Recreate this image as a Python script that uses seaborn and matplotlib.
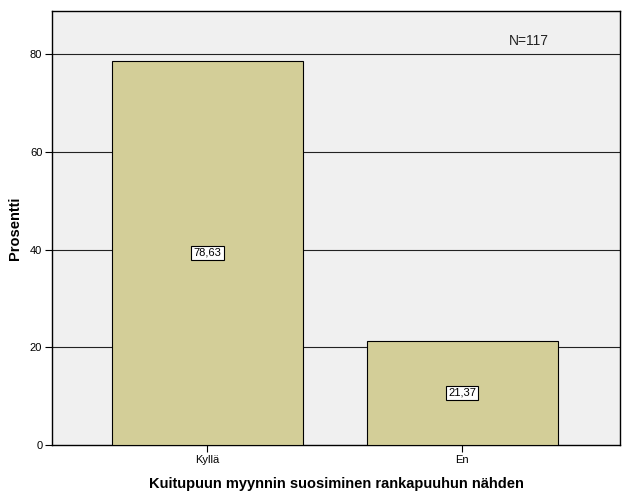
import pandas as pd
import matplotlib
matplotlib.use("Agg")
import matplotlib.pyplot as plt
import seaborn as sns

# Data
categories = ["Kyllä", "En"]
percents = [78.63, 21.37]
value_labels = ["78,63", "21,37"]
n_text = "N=117"

df = pd.DataFrame({"vastaus": categories, "prosentti": percents})

sns.set_style("white")
plt.rcParams["font.family"] = ["Liberation Sans", "DejaVu Sans"]

fig = plt.figure(figsize=(6.26, 5.01), dpi=100)
ax = fig.add_axes([0.0831, 0.1118, 0.9073, 0.8662])
ax.set_facecolor("#f0f0f0")

sns.barplot(data=df, x="vastaus", y="prosentti", ax=ax, color="#d3ce98",
            width=0.75, edgecolor="black", linewidth=0.8, saturation=1, zorder=3)

for y in [20, 40, 60, 80]:
    ax.axhline(y, color="#222222", linewidth=0.8, zorder=1)

# value labels at half bar height
for i, (p, lab) in enumerate(zip(percents, value_labels)):
    ax.text(i, p / 2, lab, ha="center", va="center", fontsize=8, zorder=5,
            color="black",
            bbox=dict(boxstyle="square,pad=0.2", facecolor="white",
                      edgecolor="black", linewidth=0.8))

ax.text(0.84, 0.93, n_text, transform=ax.transAxes, ha="center", va="center",
        fontsize=10, color="#222222")

ax.set_xlim(-0.61, 1.62)
ax.set_ylim(0, 88.8)
ax.set_yticks([0, 20, 40, 60, 80])
ax.tick_params(axis="both", labelsize=8, length=5, width=0.8, color="black",
               labelcolor="black", direction="out", left=True, bottom=True, pad=2)
for s in ax.spines.values():
    s.set_color("black")
    s.set_linewidth(1.0)

ax.set_xlabel("Kuitupuun myynnin suosiminen rankapuuhun nähden",
              fontsize=10.5, fontweight="bold", labelpad=9, color="black")
ax.set_ylabel("Prosentti", fontsize=10.5, fontweight="bold", labelpad=6,
              color="black")

fig.savefig("out.png", dpi=100)
